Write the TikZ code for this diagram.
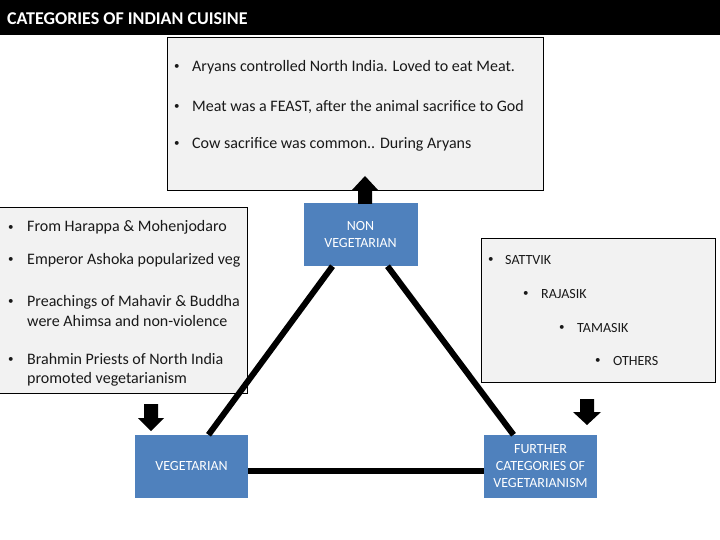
\documentclass[tikz,border=0pt]{standalone}
\usepackage{fontspec}
\setmainfont{Carlito}
\definecolor{nodeblue}{HTML}{4F81BD}
\definecolor{boxgray}{HTML}{F2F2F2}
\begin{document}
\begin{tikzpicture}[x=1pt,y=-1pt,
  txtbox/.style={draw=black, fill=boxgray, line width=0.8pt, inner sep=0pt, anchor=north west},
  catnode/.style={fill=nodeblue, text=white, font=\fontsize{14}{17}\selectfont, align=center, inner sep=0pt, minimum width=114pt, minimum height=63pt},
  itemA/.style={anchor=base west, inner sep=0pt, text=black!90, font=\fontsize{16}{18}\selectfont},
  itemB/.style={anchor=base west, inner sep=0pt, text=black!90, font=\fontsize{14}{16}\selectfont},
  bul/.style={anchor=base west, inner sep=0pt, text=black!90, font=\fontsize{11}{12}\selectfont},
  tri/.style={line width=6pt},
  blockarrow/.style={fill=black}]
\useasboundingbox (0,0) rectangle (720,540);
\fill[white] (0,0) rectangle (720,540);
\fill[black] (0,0) rectangle (720,35);
\node[anchor=base west, inner sep=0pt, text=white, font=\fontsize{18}{20}\selectfont\bfseries] (title) at (7,25) {CATEGORIES OF INDIAN CUISINE};

% text boxes
\node[txtbox, minimum width=376pt, minimum height=153pt] (meatbox) at (167,37) {};
\node[txtbox, minimum width=248pt, minimum height=186pt] (vegbox) at (-1,207) {};
\node[txtbox, minimum width=234pt, minimum height=144pt] (catbox) at (481,238) {};

% top box items
\node[bul] (b1) at (174,70) {•};
\node[itemA] (t1) at (192,72) {Aryans controlled North India. Loved to eat Meat.};
\node[bul] (b2) at (174,110) {•};
\node[itemA] (t2) at (192,112) {Meat was a FEAST, after the animal sacrifice to God};
\node[bul] (b3) at (174,147) {•};
\node[itemA] (t3) at (192,149) {Cow sacrifice was common.. During Aryans};

% left box items
\node[bul] (l1b) at (8,230) {•};
\node[itemA] (l1) at (27,232) {From Harappa \& Mohenjodaro};
\node[bul] (l2b) at (8,262) {•};
\node[itemA] (l2) at (27,264) {Emperor Ashoka popularized veg};
\node[bul] (l3b) at (8,304) {•};
\node[itemA] (l3) at (27,306) {Preachings of Mahavir \& Buddha};
\node[itemA] (l3c) at (27,326) {were Ahimsa and non-violence};
\node[bul] (l4b) at (8,362) {•};
\node[itemA] (l4) at (27,364) {Brahmin Priests of North India};
\node[itemA] (l4c) at (27,383) {promoted vegetarianism};

% right box items
\node[bul] (r1b) at (488,262) {•};
\node[itemB] (r1) at (505,264) {SATTVIK};
\node[bul] (r2b) at (523,296) {•};
\node[itemB] (r2) at (541,298) {RAJASIK};
\node[bul] (r3b) at (559,330) {•};
\node[itemB] (r3) at (577,332) {TAMASIK};
\node[bul] (r4b) at (595,363) {•};
\node[itemB] (r4) at (613,365) {OTHERS};

% category nodes
\node[catnode] (nv) at (360.5,234.5) {NON\\VEGETARIAN};
\node[catnode, minimum width=113pt] (veg) at (191.5,466.5) {VEGETARIAN};
\node[catnode, minimum width=113pt] (fur) at (540.5,466.5) {FURTHER\\CATEGORIES OF\\VEGETARIANISM};

% triangle connectors
\draw[tri] ([xshift=-28pt]nv.south) -- ([xshift=17pt]veg.north);
\draw[tri] ([xshift=27pt]nv.south) -- ([xshift=-27pt]fur.north);
\draw[tri] ([yshift=-4pt]veg.east) -- ([yshift=-4pt]fur.west);

% block arrows
\fill[blockarrow] (358,204) -- (358,190) -- (352,190) -- (365,176) -- (378,190) -- (372,190) -- (372,204) -- cycle;
\fill[blockarrow] (144,404) -- (158,404) -- (158,418) -- (164,418) -- (151,431) -- (138,418) -- (144,418) -- cycle;
\fill[blockarrow] (580,399) -- (594,399) -- (594,412) -- (601,412) -- (587,425) -- (573,412) -- (580,412) -- cycle;
\end{tikzpicture}
\end{document}
